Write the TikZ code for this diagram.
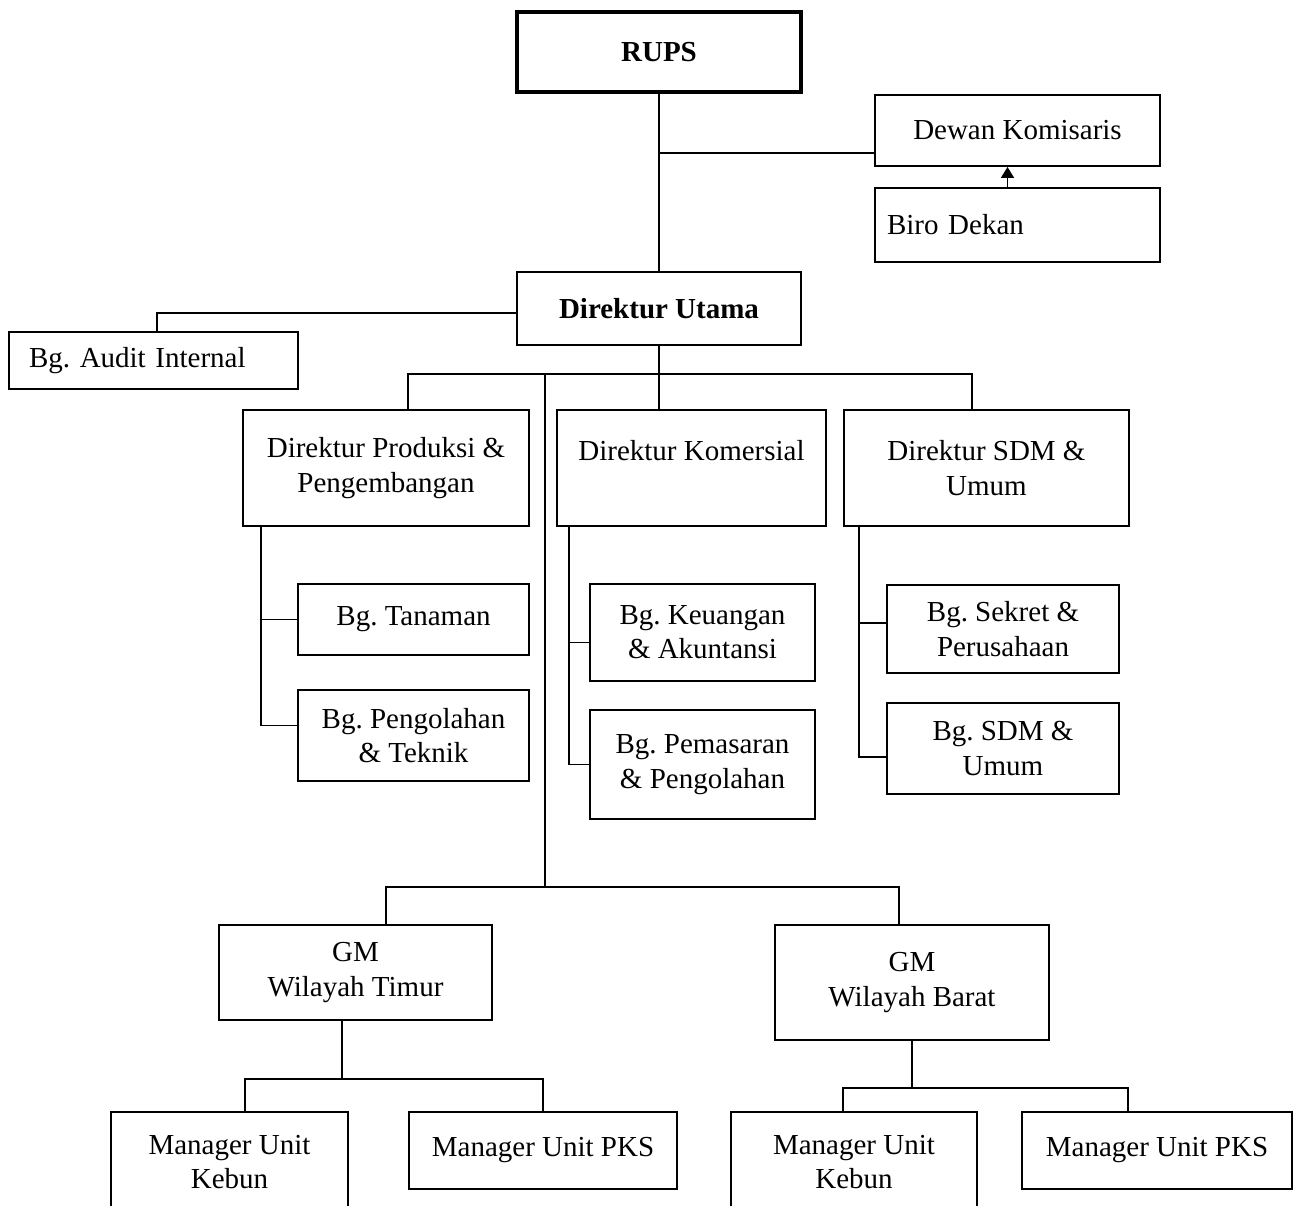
\documentclass[tikz,border=0pt]{standalone}
\usepackage{fontspec}
\setmainfont{Liberation Serif}
\usetikzlibrary{arrows.meta}
\frenchspacing

\begin{document}
\begin{tikzpicture}[x=0.02cm,y=-0.02cm,line width=1.1pt,
    box/.style={draw, align=center, inner sep=0pt, font=\fontsize{16.5}{19.5}\selectfont}]
    % page frame (pixel units, y downwards)
    \useasboundingbox (0,0) rectangle (1295,1205);

    % top level
    \node[box, line width=2pt, minimum width=5.68cm, minimum height=1.6cm] (rups) at (659,52) {\textbf{RUPS}};
    \node[box, minimum width=5.7cm, minimum height=1.42cm] (dewan) at (1017.5,130.5) {Dewan Komisaris};
    \node[box, align=left, inner xsep=0.24cm, text width=5.22cm, minimum height=1.48cm] (biro) at (1017.5,225) {Biro Dekan};
    \node[box, minimum width=5.68cm, minimum height=1.46cm] (dirut) at (659,308.5) {\textbf{Direktur Utama}};
    \node[box, align=left, inner xsep=0.4cm, text width=4.98cm, minimum height=1.14cm] (audit) at (153.5,360.5) {Bg. Audit Internal};

    % directors
    \node[box, minimum width=5.72cm, minimum height=2.32cm] (prod) at (386,468) {Direktur Produksi \&\\ Pengembangan};
    \node[box, minimum width=5.38cm, minimum height=2.32cm] (kom) at (691.5,468) {Direktur Komersial\\ ~};
    \node[box, minimum width=5.7cm, minimum height=2.32cm] (sdm) at (986.5,468) {Direktur SDM \&\\ Umum};

    % departments
    \node[box, minimum width=4.62cm, minimum height=1.42cm] (tanam) at (413.5,619.5) {Bg. Tanaman};
    \node[box, minimum width=4.62cm, minimum height=1.82cm] (olah) at (413.5,735.5) {Bg. Pengolahan\\ \& Teknik};
    \node[box, minimum width=4.5cm, minimum height=1.94cm] (keu) at (702.5,632.5) {Bg. Keuangan\\ \& Akuntansi};
    \node[box, minimum width=4.5cm, minimum height=2.18cm] (pasar) at (702.5,764.5) {Bg. Pemasaran\\ \& Pengolahan};
    \node[box, minimum width=4.64cm, minimum height=1.76cm] (sekret) at (1003,629) {Bg. Sekret \&\\ Perusahaan};
    \node[box, minimum width=4.64cm, minimum height=1.82cm] (sdmu) at (1003,748.5) {Bg. SDM \&\\ Umum};

    % regions
    \node[box, minimum width=5.46cm, minimum height=1.9cm] (gmt) at (355.5,972.5) {GM\\ Wilayah Timur};
    \node[box, minimum width=5.48cm, minimum height=2.3cm] (gmb) at (912,982.5) {GM\\ Wilayah Barat};

    % units
    \node[box, minimum width=4.74cm, minimum height=2cm] (mkt) at (229.5,1162) {Manager Unit\\ Kebun};
    \node[box, minimum width=5.36cm, minimum height=1.54cm] (mpt) at (543,1150.5) {Manager Unit PKS};
    \node[box, minimum width=4.92cm, minimum height=2cm] (mkb) at (854,1162) {Manager Unit\\ Kebun};
    \node[box, minimum width=5.4cm, minimum height=1.54cm] (mpb) at (1157,1150.5) {Manager Unit PKS};

    % lines from the top
    \draw (rups.south) -- (dirut.north);
    \draw ([yshift=0.28cm]dewan.south west) -- ++(-216,0);
    \draw[-{Triangle[width=0.26cm,length=0.22cm]}] ([xshift=-0.2cm]biro.north) -- ([xshift=-0.2cm]dewan.south);
    \draw ([yshift=-0.09cm]dirut.west) -| ([xshift=0.07cm]audit.north);

    % bus under Direktur Utama
    \draw (dirut.south) -- ++(0,28) coordinate (bus);
    \draw ([xshift=0.44cm]prod.north) |- (bus) -| ([xshift=-0.29cm]sdm.north);
    \draw (bus) -- (bus |- kom.north);

    % spine down to the GMs
    \coordinate (spine) at (545,373);
    \coordinate (gmbus) at (545,887);
    \draw (spine) -- (gmbus);
    \draw ([xshift=0.61cm]gmt.north) |- (gmbus) -| ([xshift=-0.26cm]gmb.north);

    % departments
    \draw ([xshift=0.38cm]prod.south west) |- ([yshift=0.2cm]olah.west);
    \draw (tanam.west) -- ++(-36,0);
    \draw ([xshift=0.26cm]kom.south west) |- (pasar.west);
    \draw ([yshift=-0.2cm]keu.west) -- ++(-20,0);
    \draw ([xshift=0.32cm]sdm.south west) |- ([yshift=-0.17cm]sdmu.west);
    \draw ([yshift=0.12cm]sekret.west) -- ++(-27,0);

    % units
    \draw ([xshift=-0.27cm]gmt.south) -- ++(0,58) coordinate (tbus);
    \draw ([xshift=0.31cm]mkt.north) |- (tbus) -| (mpt.north);
    \draw (gmb.south) -- ++(0,47) coordinate (bbus);
    \draw ([xshift=-0.22cm]mkb.north) |- (bbus) -| ([xshift=-0.58cm]mpb.north);
\end{tikzpicture}
\end{document}
